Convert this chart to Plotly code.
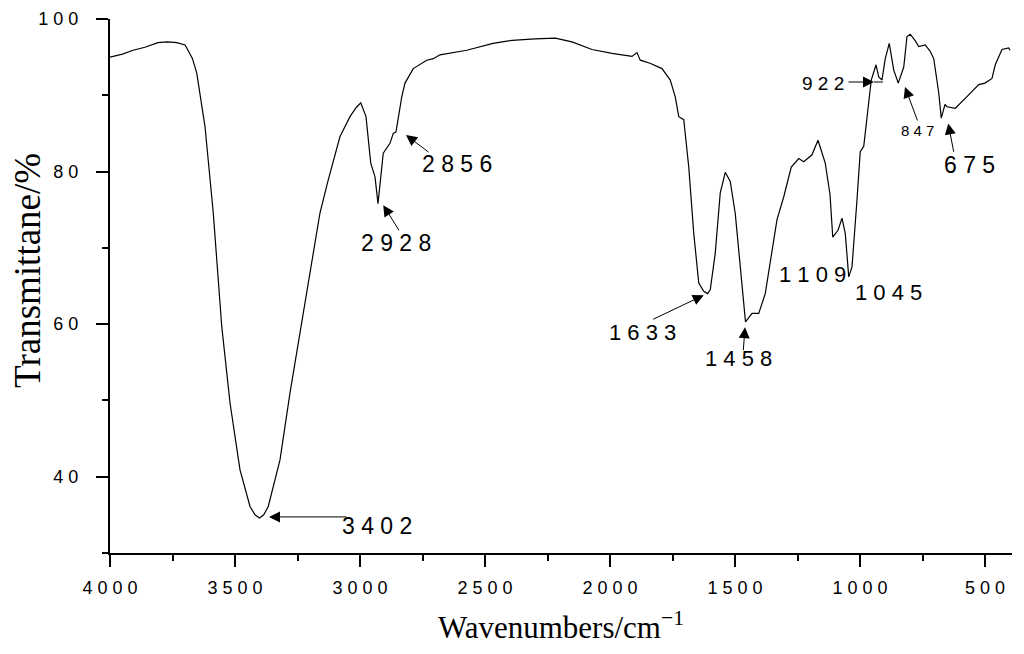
import plotly.graph_objects as go

# FTIR spectrum (wavenumber cm-1, transmittance %)
wavenumber = [
    4000, 3950, 3908, 3860, 3808, 3770, 3733, 3700, 3688, 3670, 3653, 3620, 3587,
    3553, 3520, 3480, 3440, 3420, 3402, 3385, 3367, 3320, 3280, 3240, 3200,
    3160, 3127, 3080, 3040, 3015, 2997, 2976, 2957, 2940, 2928, 2907, 2880,
    2867, 2856, 2833, 2820, 2787, 2733, 2707, 2680, 2573, 2468, 2392, 2300,
    2219, 2152, 2072, 1992, 1912, 1892, 1879, 1840, 1792, 1759, 1739, 1725,
    1705, 1685, 1665, 1645, 1625, 1610, 1599, 1579, 1559, 1539, 1519, 1499,
    1479, 1458, 1432, 1405, 1379, 1359, 1332, 1305, 1275, 1245, 1225, 1192,
    1168, 1139, 1120, 1109, 1088, 1072, 1059, 1045, 1032, 1012, 999, 985,
    968, 955, 936, 925, 912, 899, 883, 865, 847, 825, 812, 799, 780, 765,
    739, 720, 705, 685, 675, 660, 652, 619, 579, 550, 525, 500, 472, 459,
    432, 405, 400,
]
transmittance = [
    95.0, 95.4, 95.9, 96.3, 96.9, 97.0, 96.9, 96.6, 95.9, 94.8, 92.9, 85.9, 74.6,
    59.7, 49.7, 40.9, 36.1, 35.0, 34.6, 35.0, 36.1, 42.2, 51.0, 58.8, 66.7,
    74.6, 78.9, 84.6, 87.2, 88.4, 89.0, 87.2, 81.1, 79.3, 75.8, 82.4, 83.7,
    85.0, 85.2, 89.8, 91.6, 93.5, 94.6, 94.8, 95.3, 95.9, 96.8, 97.2, 97.4,
    97.5, 97.0, 96.0, 95.5, 95.1, 95.6, 94.6, 94.2, 93.5, 92.0, 89.8, 87.2,
    86.8, 80.6, 71.9, 65.4, 64.3, 64.0, 64.5, 69.3, 77.2, 79.9, 78.7, 74.5,
    67.5, 60.3, 61.4, 61.4, 64.0, 68.0, 73.7, 76.7, 80.6, 81.7, 81.3, 82.2,
    84.1, 81.1, 77.0, 71.4, 72.3, 73.9, 71.9, 66.2, 67.5, 76.3, 82.6, 83.3,
    88.5, 92.0, 94.0, 92.4, 92.0, 94.8, 96.8, 93.3, 91.6, 93.7, 97.7, 98.0,
    97.2, 96.4, 96.6, 95.8, 94.8, 90.3, 87.0, 88.8, 88.5, 88.3, 89.6, 90.5,
    91.4, 91.6, 92.2, 94.0, 96.0, 96.2, 95.9,
]

# peak labels
peak_labels = ["3402", "2928", "2856", "1633", "1458", "1109", "1045", "922", "847", "675"]

fig = go.Figure()
fig.add_trace(go.Scatter(
    x=wavenumber, y=transmittance, mode="lines",
    line=dict(color="black", width=1.2), showlegend=False,
))


def spaced(s):
    return " ".join(s)


# label placement: (text x, text y, font size, arrow tail x/y, arrow tip x/y or None)
label_layout = [
    (2932, 33.6, 23, (3048, 34.73), (3364, 34.73)),
    (2856, 70.6, 23, (2840, 72.1), (2907, 75.6)),
    (2612, 81.0, 23, (2720, 82.4), (2816, 84.8)),
    (1871, 58.9, 22, (1833, 60.55), (1625, 63.8)),
    (1487, 55.5, 22, (1467, 56.4), (1460, 59.6)),
    (1192, 66.45, 22, None, None),
    (888, 64.1, 22, None, None),
    (1148, 91.6, 19, (1052, 91.74), (944, 91.74)),
    (772, 85.45, 15, (768, 86.5), (820, 91.1)),
    (564, 80.9, 23, (624, 82.4), (647, 86.3)),
]

for text, (tx, ty, fs, tail, tip) in zip(peak_labels, label_layout):
    fig.add_annotation(
        x=tx, y=ty, text=spaced(text), showarrow=False,
        font=dict(family="Liberation Sans, Arial", size=fs, color="black"),
    )
    if tip is not None:
        fig.add_annotation(
            x=tip[0], y=tip[1], ax=tail[0], ay=tail[1],
            axref="x", ayref="y", text="", showarrow=True,
            arrowhead=2, arrowsize=2.2, arrowwidth=1, arrowcolor="black",
            standoff=0, startstandoff=0,
        )

# the 922 leader runs a little past its arrowhead
fig.add_shape(type="line", x0=944, x1=908, y0=91.74, y1=91.74,
              line=dict(color="black", width=1))

x_ticks = [4000, 3500, 3000, 2500, 2000, 1500, 1000, 500]
y_ticks = [40, 60, 80, 100]

fig.update_xaxes(
    range=[4000, 392], showgrid=False, zeroline=False, automargin=False,
    showline=True, linecolor="black", linewidth=2,
    ticks="outside", ticklen=12, tickwidth=2, tickcolor="black",
    tickvals=x_ticks, ticktext=[spaced(str(v)) for v in x_ticks],
    tickfont=dict(family="Liberation Sans, Arial", size=18, color="black"),
    ticklabelstandoff=5,
    minor=dict(ticks="outside", ticklen=6, tickwidth=2, tickcolor="black",
               dtick=250, tick0=0),
    title=dict(text="Wavenumbers/cm<sup>\u22121</sup>", standoff=20,
               font=dict(family="Liberation Serif, Times New Roman", size=31, color="black")),
)
fig.update_yaxes(
    range=[30, 100], showgrid=False, zeroline=False, automargin=False,
    showline=True, linecolor="black", linewidth=2,
    ticks="outside", ticklen=12, tickwidth=2, tickcolor="black",
    tickvals=y_ticks, ticktext=[spaced(str(v)) for v in y_ticks],
    tickfont=dict(family="Liberation Sans, Arial", size=18, color="black"),
    ticklabelstandoff=14,
    minor=dict(ticks="outside", ticklen=6, tickwidth=2, tickcolor="black",
               dtick=20, tick0=30),
)

# y title sits a little above the middle of the axis in the original
fig.add_annotation(
    xref="paper", yref="paper", x=-0.091, y=0.53, textangle=-90,
    text="Transmittane/%", showarrow=False, xanchor="center", yanchor="middle",
    font=dict(family="Liberation Serif, Times New Roman", size=37, color="black"),
)

fig.update_layout(
    width=1024, height=654,
    margin=dict(l=102, r=20, t=11, b=109),
    plot_bgcolor="white", paper_bgcolor="white",
)

fig.write_html("out.html")
